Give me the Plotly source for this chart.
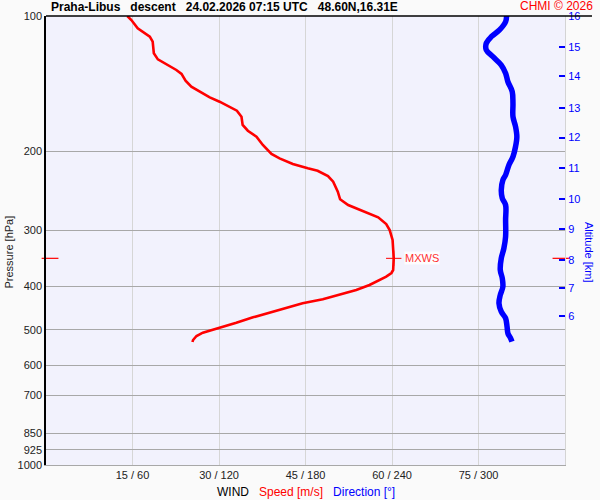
import numpy as np
import plotly.graph_objects as go

# ---- data ----
speed_pressure = [100.0, 102.1, 106.5, 108.4, 111.2, 114.1, 121.1, 124.9, 127.9, 131.9,
                  134.6, 139.4, 143.7, 147.4, 151.8, 155.2, 159.2, 162.5, 167.6, 174.8,
                  180.1, 185.7, 193.8, 202.9, 207.5, 213.6, 218.4, 221.1, 227.2, 233.9,
                  246.2, 256.0, 263.6, 268.1, 274.3, 280.8, 290.6, 299.7, 315.4, 332.0,
                  346.5, 367.9, 373.6, 380.7, 387.3, 397.3, 407.6, 418.2, 427.6, 436.4,
                  446.3, 457.9, 468.9, 482.1, 494.6, 507.4, 516.1, 526.8, 532.2]
speed_ms = [14.1, 14.8, 15.9, 16.8, 18.0, 18.5, 18.7, 19.4, 20.9, 22.6,
            23.5, 24.2, 25.2, 26.6, 28.4, 30.1, 31.8, 33.1, 33.9, 34.1,
            35.0, 36.5, 37.6, 39.1, 40.5, 42.8, 45.4, 47.1, 48.9, 49.8,
            50.6, 51.0, 52.4, 53.8, 55.8, 57.6, 59.0, 59.6, 60.1, 60.2,
            60.3, 60.2, 59.9, 59.0, 57.8, 56.1, 53.8, 50.9, 48.0, 44.5,
            41.7, 38.8, 35.9, 33.0, 30.1, 27.2, 26.1, 25.5, 25.4]

dir_pressure = [100.0, 103.0, 107.4, 111.2, 115.0, 119.0, 123.2, 128.6, 134.1, 140.1,
                147.4, 156.5, 167.6, 176.4, 185.7, 195.4, 205.8, 214.7, 226.0, 231.9,
                244.1, 254.7, 263.6, 284.7, 310.0, 329.2, 346.5, 367.9, 383.9, 400.8,
                418.2, 436.4, 455.6, 471.3, 492.0, 508.9, 522.2, 531.4]
direction_deg = [319.5, 318.8, 314.6, 308.9, 305.4, 305.4, 310.0, 315.8, 318.8, 320.4,
                 323.4, 323.9, 323.9, 325.7, 326.6, 325.7, 323.9, 321.1, 318.8, 316.9,
                 315.8, 316.5, 318.8, 318.8, 318.8, 317.6, 315.8, 315.1, 316.5, 316.9,
                 315.1, 314.2, 315.8, 318.8, 319.8, 320.4, 322.3, 323.2]

pressure_ticks = [100, 200, 300, 400, 500, 600, 700, 850, 925, 1000]
speed_ticks = [15, 30, 45, 60, 75, 90]
speed_tick_labels = ["15 / 60", "30 / 120", "45 / 180", "60 / 240", "75 / 300", ""]

altitude_km = [16, 15, 14, 13, 12, 11, 10, 9, 8, 7, 6]
altitude_pressure = [100.0, 117.4, 136.0, 160.5, 186.6, 218.4, 256.0, 298.7, 349.4, 402.9, 465.8]

title_text = "Praha-Libus&nbsp;&nbsp;&nbsp;descent&nbsp;&nbsp;&nbsp;24.02.2026 07:15 UTC&nbsp;&nbsp;&nbsp;48.60N,16.31E"

imax = int(np.argmax(speed_ms))
mxws_speed = speed_ms[imax]
mxws_pressure = speed_pressure[imax]

FONT = "Liberation Sans, Arial, sans-serif"
RED = "#ff0000"
BLUE = "#0000ff"

fig = go.Figure()

fig.add_trace(go.Scatter(x=speed_ms, y=speed_pressure, mode="lines",
                         line=dict(color=RED, width=2.6), xaxis="x", yaxis="y",
                         showlegend=False, hoverinfo="skip"))
fig.add_trace(go.Scatter(x=direction_deg, y=dir_pressure, mode="lines",
                         line=dict(color=BLUE, width=5.5, shape="spline"),
                         xaxis="x2", yaxis="y2", showlegend=False, hoverinfo="skip"))
# MXWS cross on the curve
fig.add_trace(go.Scatter(x=[mxws_speed], y=[mxws_pressure], mode="markers",
                         marker=dict(symbol="cross-thin", size=11,
                                     line=dict(color=RED, width=1)),
                         xaxis="x", yaxis="y", showlegend=False, hoverinfo="skip",
                         cliponaxis=False))
# MXWS marks on both side axes
fig.add_trace(go.Scatter(x=[0.7, 89.3], y=[mxws_pressure, mxws_pressure], mode="markers",
                         marker=dict(symbol="line-ew", size=12,
                                     line=dict(color=RED, width=1.2)),
                         xaxis="x", yaxis="y", showlegend=False, hoverinfo="skip",
                         cliponaxis=False))

fig.update_layout(
    width=600, height=500,
    margin=dict(l=46, r=35, t=16, b=35, autoexpand=False),
    paper_bgcolor="#fafafa",
    plot_bgcolor="#f2f2fd",
    font=dict(family=FONT, size=11, color="#222222"),
    xaxis=dict(range=[0, 90], tickmode="array", tickvals=speed_ticks, automargin=False,
               ticktext=speed_tick_labels, showgrid=True, gridcolor="#d6d6d6",
               gridwidth=1, zeroline=False, showline=True, linecolor="#a8a8a8",
               ticks="", tickfont=dict(size=11, color="#222222")),
    xaxis2=dict(range=[0, 360], overlaying="x", visible=False, automargin=False),
    yaxis=dict(type="log", range=[3, 2], tickmode="array", tickvals=pressure_ticks,
               ticktext=[str(v) for v in pressure_ticks], showgrid=True, automargin=False,
               gridcolor="#a8a8a8", gridwidth=1, zeroline=False, showline=True,
               linecolor="#000000", linewidth=1.5, ticks="",
               tickfont=dict(size=11, color="#222222")),
    yaxis2=dict(type="log", range=[3, 2], overlaying="y", side="right", automargin=False,
                tickmode="array", tickvals=altitude_pressure,
                ticktext=[str(v) for v in altitude_km], showgrid=False,
                zeroline=False, showline=True, linecolor="#d4d4d4",
                ticks="inside", ticklen=6, tickcolor=BLUE, tickwidth=1.5,
                tickfont=dict(size=11, color=BLUE)),
    shapes=[dict(type="line", xref="paper", yref="paper", x0=0, x1=1.052, y0=1, y1=1,
                 line=dict(color="#000000", width=1.5))],
    annotations=[
        dict(text="<b>" + title_text + "</b>", xref="paper", yref="paper",
             x=0.006, y=1.02, xanchor="left", yanchor="middle", showarrow=False,
             font=dict(size=12, color="#000000")),
        dict(text="CHMI © 2026", xref="paper", yref="paper", x=1.058, y=1.022,
             xanchor="right", yanchor="middle", showarrow=False,
             font=dict(size=12, color=RED)),
        dict(text="WIND&nbsp;&nbsp;&nbsp;<span style='color:#ff0000'>Speed [m/s]</span>"
                  "&nbsp;&nbsp;&nbsp;<span style='color:#0000ff'>Direction [°]</span>",
             xref="paper", yref="paper", x=(306 - 46) / 519, y=-0.06,
             xanchor="center", yanchor="middle", showarrow=False,
             font=dict(size=12, color="#000000")),
        dict(text="Pressure [hPa]", xref="paper", yref="paper", x=(8 - 46) / 519,
             y=(465 - 252.5) / 449, xanchor="center", yanchor="middle",
             textangle=-90, showarrow=False, font=dict(size=11, color="#222222")),
        dict(text="Altitude [km]", xref="paper", yref="paper", x=(589.5 - 46) / 519,
             y=(465 - 252.5) / 449, xanchor="center", yanchor="middle",
             textangle=90, showarrow=False, font=dict(size=11, color=BLUE)),
        dict(text="MXWS", xref="x", yref="y", x=mxws_speed, y=float(np.log10(mxws_pressure)),
             xanchor="left", yanchor="middle", xshift=10, showarrow=False,
             bgcolor="rgba(255,255,255,0.85)", borderpad=0,
             font=dict(size=11, color="#ff3030")),
    ],
)

fig.write_html("out.html", config={"displayModeBar": False},
               post_script="document.body.style.margin='0';document.body.style.background='#fafafa';")
